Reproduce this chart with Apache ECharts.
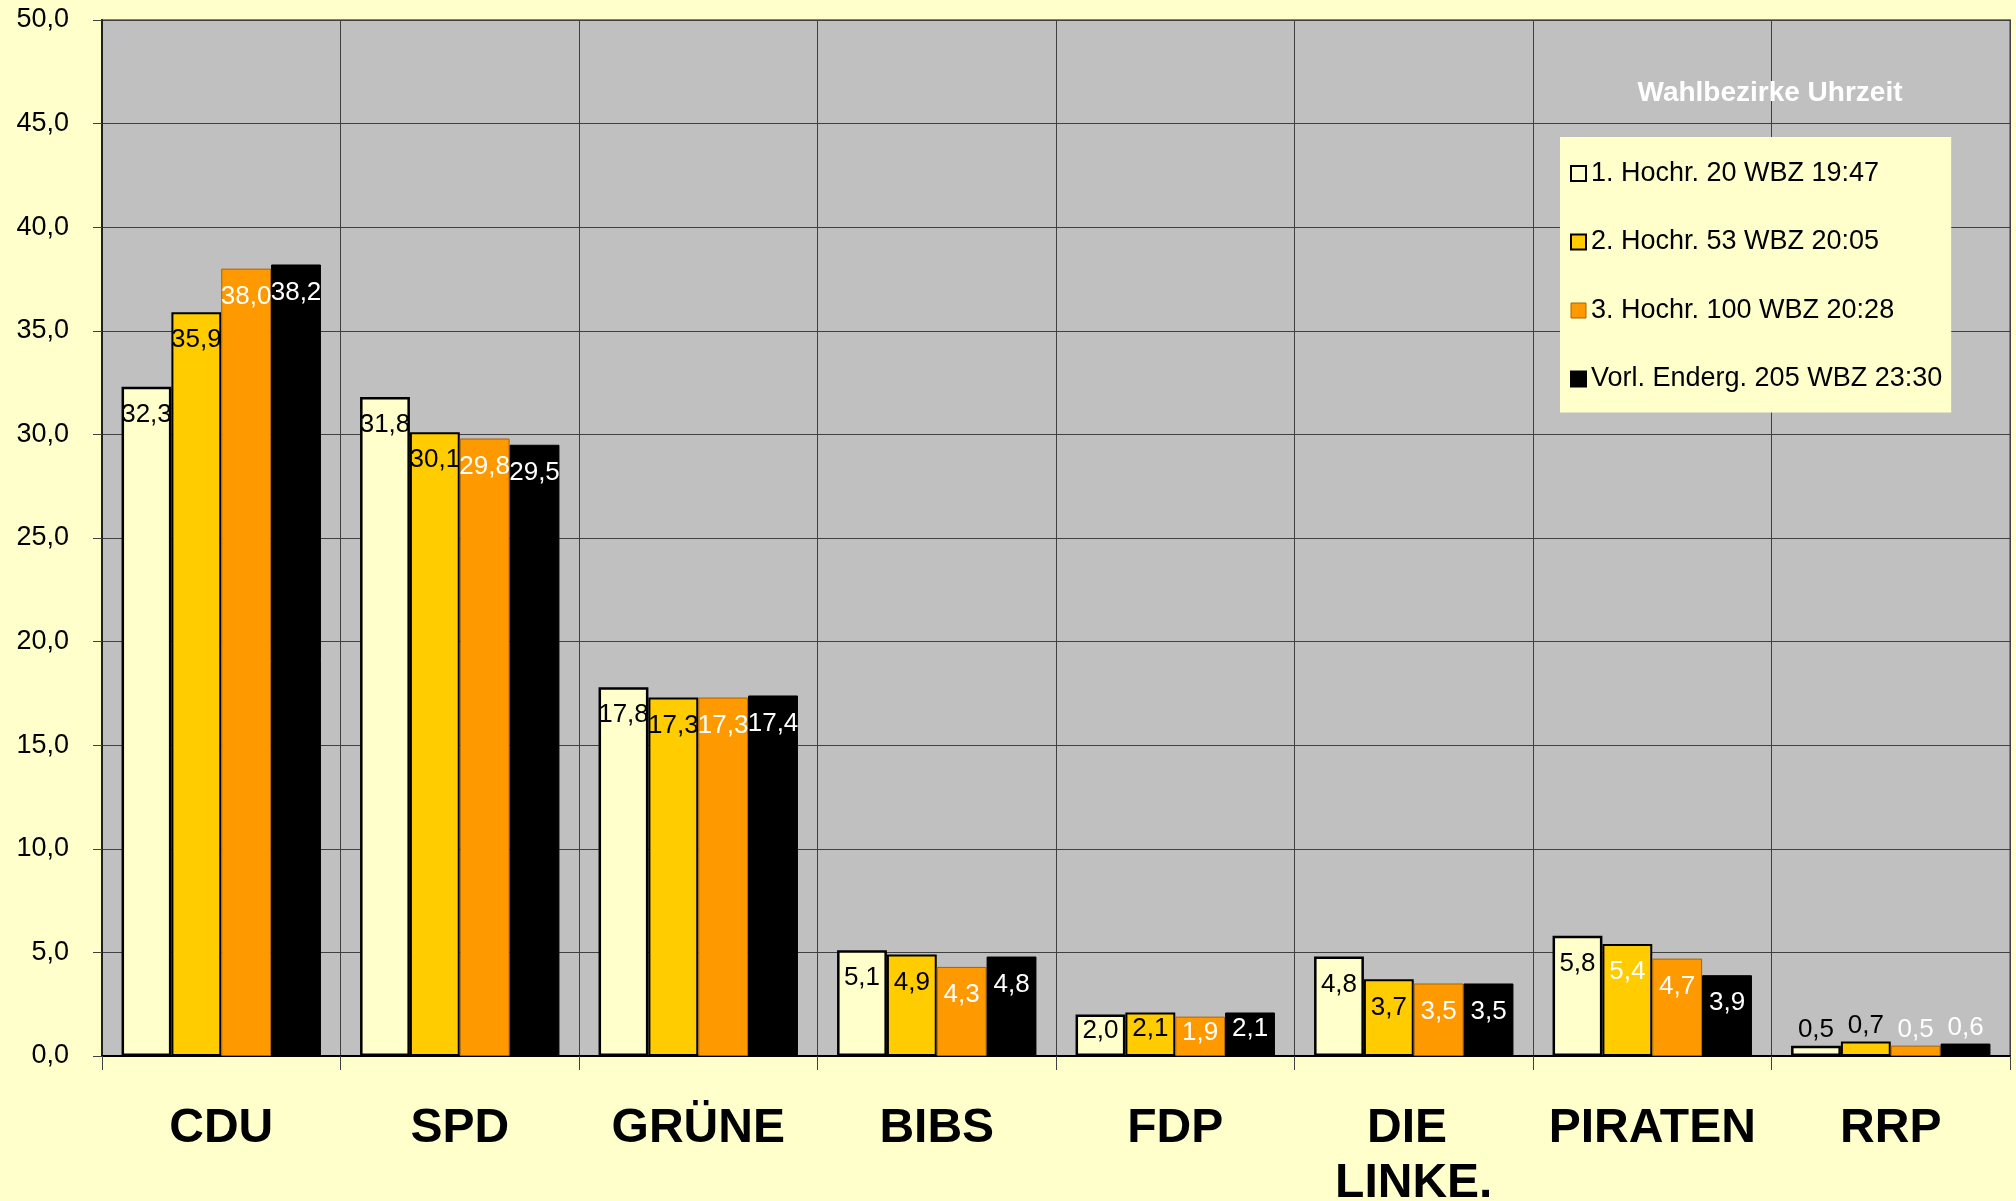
<!doctype html>
<html>
<head>
	<meta charset="utf-8">
	<title>Wahlbezirke Uhrzeit</title>
	<script src="https://cdn.jsdelivr.net/npm/echarts@6/dist/echarts.min.js"></script>
	<style>
		html, body { margin: 0; padding: 0; background: #FFFFCC; }
		#chart { width: 2016px; height: 1201px; }
	</style>
</head>
<body>
	<div id="chart"></div>
<script>
	var parties = ["CDU", "SPD", "GRÜNE", "BIBS", "FDP", "DIE LINKE.", "PIRATEN", "RRP"];
	var seriesNames = ["1. Hochr. 20 WBZ 19:47", "2. Hochr. 53 WBZ 20:05", "3. Hochr. 100 WBZ 20:28", "Vorl. Enderg. 205 WBZ 23:30"];
	var hochr1 = [32.3, 31.8, 17.8, 5.1, 2.0, 4.8, 5.8, 0.5];
	var hochr2 = [35.9, 30.1, 17.3, 4.9, 2.1, 3.7, 5.4, 0.7];
	var hochr3 = [38.0, 29.8, 17.3, 4.3, 1.9, 3.5, 4.7, 0.5];
	var endErg = [38.2, 29.5, 17.4, 4.8, 2.1, 3.5, 3.9, 0.6];
	var yTicks = [0, 5, 10, 15, 20, 25, 30, 35, 40, 45, 50];

	var font = "'Liberation Sans', Arial, sans-serif";
	var fills = ["#FFFFCC", "#FFCC00", "#FF9900", "#000000"];
	var borders = ["#000000", "#000000", "#A86400", "#000000"];
	var borderWidths = [2.5, 2, 1, 1];
	var labelColors = ["#000", "#000", "#fff", "#fff"];

	function fmt(v) {
		return v.toFixed(1).replace(".", ",");
	}

	// label placement like excel: above tiny bars, inside otherwise
	function makeData(values, sIdx) {
		return values.map(function(v, i) {
			var lab = {};
			if (v < 1) {
				lab = { position: "top", distance: 3 };
			} else if (v < 2.5) {
				lab = { position: "insideTop", distance: 3 };
			}
			if (sIdx === 1 && parties[i] === "PIRATEN") {
				lab.color = "#fff";
			}
			return { value: v, label: lab };
		});
	}

	var allValues = [hochr1, hochr2, hochr3, endErg];
	var series = allValues.map(function(vals, s) {
		return {
			name: seriesNames[s],
			type: "bar",
			barGap: "0%",
			barCategoryGap: "16.4%",
			itemStyle: {
				color: fills[s],
				borderColor: borders[s],
				borderWidth: borderWidths[s]
			},
			label: {
				show: true,
				position: "insideTop",
				distance: 15,
				color: labelColors[s],
				fontFamily: font,
				fontSize: 26,
				formatter: function(p) { return fmt(p.value); }
			},
			emphasis: { disabled: true },
			data: makeData(vals, s)
		};
	});

	var chart = echarts.init(document.getElementById("chart"));
	chart.setOption({
		backgroundColor: "#FFFFCC",
		animation: false,
		title: {
			text: "Wahlbezirke Uhrzeit",
			left: 1770,
			top: 79,
			padding: 0,
			textAlign: "center",
			textStyle: {
				color: "#FFFFFF",
				fontFamily: font,
				fontSize: 28,
				fontWeight: "bold"
			}
		},
		legend: {
			orient: "vertical",
			left: 1560,
			top: 137,
			padding: [23, 9, 20, 10],
			itemGap: 41.5,
			itemWidth: 15,
			itemHeight: 15,
			icon: "rect",
			selectedMode: false,
			backgroundColor: "#FFFFCC",
			textStyle: {
				color: "#000",
				fontFamily: font,
				fontSize: 27
			},
			data: seriesNames.map(function(n, s) {
				return {
					name: n,
					itemStyle: {
						color: fills[s],
						borderColor: borders[s],
						borderWidth: s === 2 ? 1 : 2
					}
				};
			})
		},
		grid: {
			left: 102,
			right: 6,
			top: 20,
			bottom: 145,
			outerBoundsMode: "none",
			show: true,
			backgroundColor: "#C0C0C0",
			borderColor: "#808080",
			borderWidth: 2
		},
		xAxis: {
			type: "category",
			data: parties,
			axisLine: { show: true, lineStyle: { color: "#000", width: 2 } },
			axisTick: { show: true, length: 14, lineStyle: { color: "#404040", width: 1 } },
			splitLine: { show: true, lineStyle: { color: "#404040", width: 1 } },
			axisLabel: {
				margin: 45,
				color: "#000",
				fontFamily: font,
				fontSize: 48,
				fontWeight: "bold",
				lineHeight: 55,
				width: 236,
				overflow: "break",
				interval: 0
			}
		},
		yAxis: {
			type: "value",
			min: yTicks[0],
			max: yTicks[yTicks.length - 1],
			interval: yTicks[1] - yTicks[0],
			axisLine: { show: true, lineStyle: { color: "#202020", width: 2 } },
			axisTick: { show: true, length: 9, lineStyle: { color: "#404040", width: 1 } },
			splitLine: { show: true, lineStyle: { color: "#404040", width: 1 } },
			axisLabel: {
				margin: 33,
				color: "#000",
				fontFamily: font,
				fontSize: 27,
				formatter: function(v) { return fmt(v); }
			}
		},
		series: series
	});
</script>
</body>
</html>
